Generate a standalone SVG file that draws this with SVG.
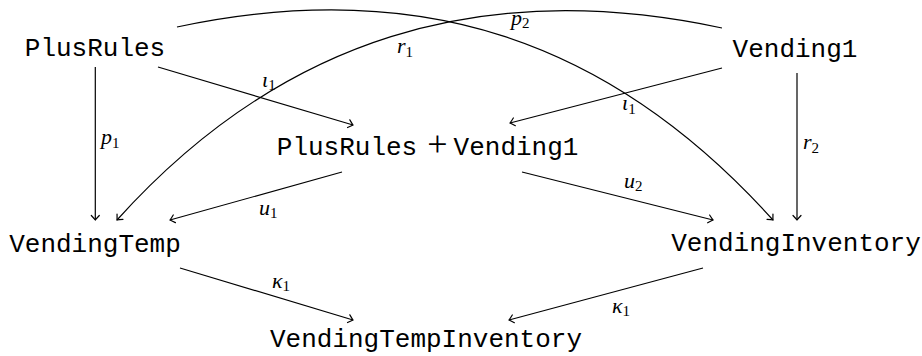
<svg xmlns="http://www.w3.org/2000/svg" width="922" height="356" viewBox="0 0 922 356">
<style>
.node{font-family:"Liberation Mono","DejaVu Sans Mono",monospace;font-size:26px;fill:#000;text-anchor:middle}
.plus{font-family:"Liberation Serif","DejaVu Serif",serif;font-size:36px;fill:#000;text-anchor:middle}
.lab{font-family:"Liberation Serif","DejaVu Serif",serif;font-size:22px;fill:#000}
.lab .m{font-style:italic}
.lab .s{font-size:15px;font-style:normal}
.edge{fill:none;stroke:#000;stroke-width:1.2;marker-end:url(#to)}
</style>
<defs>
<marker id="to" markerUnits="userSpaceOnUse" markerWidth="14" markerHeight="14" viewBox="-7 -7 14 14" refX="0" refY="0" orient="auto" overflow="visible">
<path d="M -4.5 -4 Q -1.2 -0.9 0 0 Q -1.2 0.9 -4.5 4" fill="none" stroke="#000" stroke-width="1.2" stroke-linecap="round"/>
</marker>
</defs>
<g id="connectors">
<path id="e-p1" class="edge" d="M95.3 67 L95.3 220"/>
<path id="e-r2" class="edge" d="M797 73 L797 220"/>
<path id="e-i1a" class="edge" d="M158 67 L353 125"/>
<path id="e-i1b" class="edge" d="M722 68 L510 123"/>
<path id="e-u1" class="edge" d="M342 172 L170 220"/>
<path id="e-u2" class="edge" d="M522 172 L713 220"/>
<path id="e-k1a" class="edge" d="M180 268 L353 320"/>
<path id="e-k1b" class="edge" d="M703 268 L509 320"/>
<path id="e-p2" class="edge" d="M177 27 C417 -24 609 38 773 220"/>
<path id="e-r1" class="edge" d="M722 28 C482 -23 281 38 117 220"/>
<text class="lab" x="101" y="144"><tspan class="m">p</tspan><tspan class="s" dy="4">1</tspan></text>
<text class="lab" x="803" y="149"><tspan class="m">r</tspan><tspan class="s" dy="4">2</tspan></text>
<text class="lab" x="511" y="25"><tspan class="m">p</tspan><tspan class="s" dy="3">2</tspan></text>
<text class="lab" x="397" y="53"><tspan class="m">r</tspan><tspan class="s" dy="4">1</tspan></text>
<text class="lab" x="262" y="87"><tspan class="m">ι</tspan><tspan class="s" dy="3">1</tspan></text>
<text class="lab" x="622" y="110"><tspan class="m">ι</tspan><tspan class="s" dy="4">1</tspan></text>
<text class="lab" x="259" y="215"><tspan class="m">u</tspan><tspan class="s" dy="3">1</tspan></text>
<text class="lab" x="624" y="188"><tspan class="m">u</tspan><tspan class="s" dy="3">2</tspan></text>
<text class="lab" x="272" y="288"><tspan class="m">κ</tspan><tspan class="s" dy="3">1</tspan></text>
<text class="lab" x="612" y="313"><tspan class="m">κ</tspan><tspan class="s" dy="3">1</tspan></text>
</g>
<g id="n-plusrules"><text class="node" x="95" y="56">PlusRules</text></g>
<g id="n-vending1"><text class="node" x="795" y="57">Vending1</text></g>
<g id="n-sum"><text class="node" x="347" y="155">PlusRules</text><text class="plus" x="437.5" y="156">+</text><text class="node" x="516" y="155">Vending1</text></g>
<g id="n-vendingtemp"><text class="node" x="95" y="252">VendingTemp</text></g>
<g id="n-vendinginventory"><text class="node" x="796" y="251">VendingInventory</text></g>
<g id="n-vendingtempinventory"><text class="node" x="426" y="347">VendingTempInventory</text></g>
</svg>
